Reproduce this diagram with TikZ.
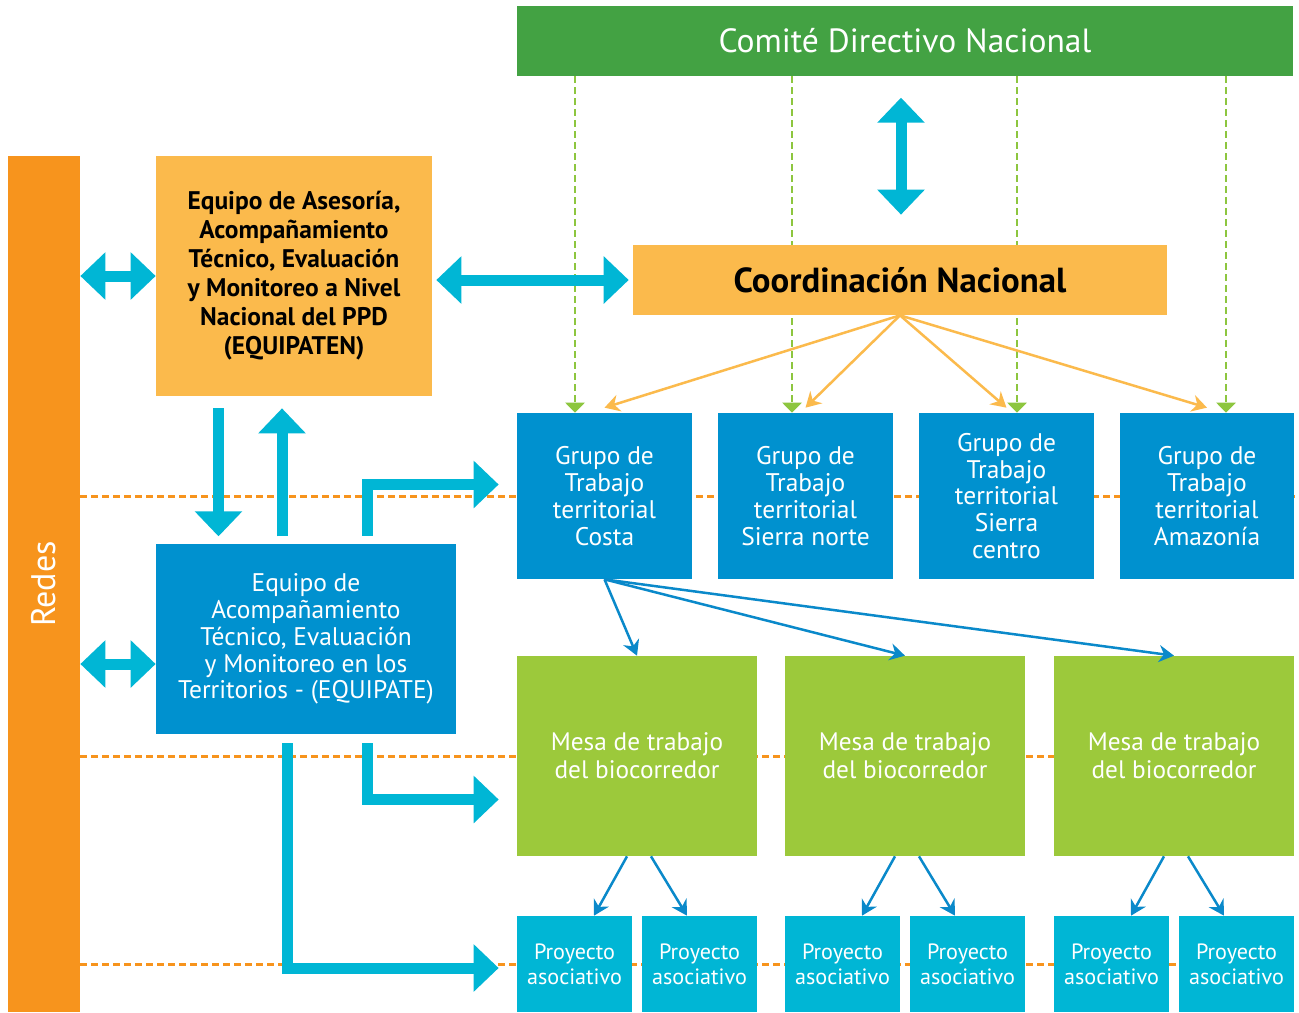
\documentclass[tikz,border=0pt]{standalone}
\usepackage{fontspec}
\setmainfont{PT Sans}
\usetikzlibrary{arrows.meta,calc,backgrounds}
\definecolor{verdeosc}{HTML}{43A243}
\definecolor{naranja}{HTML}{F7941D}
\definecolor{naranjaclaro}{HTML}{FBBA4C}
\definecolor{azul}{HTML}{0091CF}
\definecolor{cian}{HTML}{00B6D5}
\definecolor{verdeclaro}{HTML}{9CC93B}
\definecolor{verdepunto}{HTML}{8DC63F}
\definecolor{azulflecha}{HTML}{0A89CA}

\begin{document}
\begin{tikzpicture}[x=0.02cm, y=-0.02cm,
  caja/.style={rectangle, inner sep=0pt, align=center, text=white},
  grupo/.style={caja, fill=azul, minimum width=3.5cm, minimum height=3.32cm, font=\fontsize{14.5}{15.3}\selectfont},
  mesa/.style={caja, fill=verdeclaro, minimum width=4.8cm, minimum height=4cm, font=\fontsize{14.4}{16}\selectfont},
  proyecto/.style={caja, fill=cian, minimum width=2.3cm, minimum height=1.92cm, font=\fontsize{12.6}{14.2}\selectfont},
  gordo/.style={draw=cian, line width=0.22cm, line join=miter, -{Triangle[length=0.5cm,width=0.92cm]}},
  doble/.style={gordo, {Triangle[length=0.5cm,width=0.92cm]}-{Triangle[length=0.5cm,width=0.92cm]}},
  naranjafl/.style={draw=naranjaclaro, line width=0.05cm, -{Stealth[length=0.3cm,width=0.34cm]}},
  azulfl/.style={draw=azulflecha, line width=0.05cm, -{Stealth[length=0.3cm,width=0.34cm]}},
  verdefl/.style={draw=verdepunto, line width=0.05cm, dash pattern=on 0.14cm off 0.08cm, -{Triangle[length=0.2cm,width=0.38cm]}},
  punteado/.style={draw=naranja, line width=0.06cm, dash pattern=on 0.14cm off 0.08cm}]
\useasboundingbox (0,0) rectangle (1299,1012);

% cajas de arriba
\node[caja, fill=verdeosc, minimum width=15.52cm, minimum height=1.4cm, font=\fontsize{19.1}{22}\selectfont] (comite) at (905,41) {Comité Directivo Nacional};
\node[caja, fill=naranja, minimum width=1.44cm, minimum height=17.12cm] (redes) at (44,584) {};
\node[text=white, rotate=90, font=\fontsize{19.4}{22}\selectfont] (redestxt) at (redes.center) {Redes};
\node[caja, fill=naranjaclaro, text=black, minimum width=5.52cm, minimum height=4.8cm, font=\bfseries\fontsize{14.5}{16.5}\selectfont] (equipaten) at (294,276) {Equipo de Asesoría,\\Acompañamiento\\Técnico, Evaluación\\y Monitoreo a Nivel\\Nacional del PPD\\(EQUIPATEN)};
\node[caja, fill=naranjaclaro, text=black, minimum width=10.68cm, minimum height=1.4cm, font=\bfseries\fontsize{19.8}{22}\selectfont] (coord) at (900,280) {Coordinación Nacional};
\node[caja, fill=azul, minimum width=6cm, minimum height=3.8cm, font=\fontsize{14.5}{15.3}\selectfont] (equipate) at (306,639) {Equipo de\\Acompañamiento\\Técnico, Evaluación\\y Monitoreo en los\\Territorios - (EQUIPATE)};

% grupos de trabajo
\node[grupo] (costa) at (604.5,496) {Grupo de\\Trabajo\\territorial\\Costa};
\node[grupo] (norte) at (805.5,496) {Grupo de\\Trabajo\\territorial\\Sierra norte};
\node[grupo] (centro) at (1006.5,496) {Grupo de\\Trabajo\\territorial\\Sierra\\centro};
\node[grupo] (amazonia) at (1207,496) {Grupo de\\Trabajo\\territorial\\Amazonía};

% mesas y proyectos
\foreach \i/\x in {1/637, 2/905, 3/1174} {
  \node[mesa] (mesa\i) at (\x,756) {Mesa de trabajo\\del biocorredor};
  \node[proyecto] (p\i1) at (\x-62.5,964) {Proyecto\\asociativo};
  \node[proyecto] (p\i2) at (\x+62.5,964) {Proyecto\\asociativo};
  \draw[azulfl] (costa.south) -- (mesa\i.north);
  \draw[azulfl] ([xshift=-0.2cm]mesa\i.south) -- ([xshift=0.39cm]p\i1.north);
  \draw[azulfl] ([xshift=0.28cm]mesa\i.south) -- ([xshift=-0.25cm]p\i2.north);
}

\begin{pgfonlayer}{background}
\fill[white] (0,0) rectangle (1299,1012);
\draw[punteado] (redes.east |- costa.west) -- (amazonia.east);
\draw[punteado] (redes.east |- mesa1.west) -- (mesa3.east);
\draw[punteado] (redes.east |- p11.west) -- (p32.east);
\foreach \n/\d in {costa/-29.5, norte/-13.5, centro/10.5, amazonia/19} {
  \coordinate (v\n) at ($(\n.north)+(\d,0)$);
  \draw[verdefl] (v\n |- comite.south) -- (v\n);
}
\end{pgfonlayer}

\foreach \n in {costa,norte,centro,amazonia}
  \draw[naranjafl] (coord.south) -- ([yshift=0.1cm]\n.north);

% flechas gruesas
\draw[doble] (redes.east |- equipaten.west) -- (equipaten.west);
\draw[doble] ($(redes.east |- equipate.west)+(0,25)$) -- ($(equipate.west)+(0,25)$);
\draw[doble] ($(coord.north)+(1,-147)$) -- ($(coord.north)+(1,-30)$);
\draw[doble] ($(equipaten.east |- coord.west)+(4,0)$) -- ($(coord.west)+(-4,0)$);
\draw[gordo] ($(equipaten.south)+(-75.5,12)$) -- ($(equipaten.south)+(-75.5,140)$);
\draw[gordo] ($(equipaten.south)+(-12,140)$) -- ($(equipaten.south)+(-12,12)$);
\draw[gordo] ($(equipate.north)+(61.5,-8)$) |- ($(costa.west)+(-18,-11.5)$);
\draw[gordo] ($(equipate.south)+(61.5,9)$) |- ($(mesa1.west)+(-18,43.5)$);
\draw[gordo] ($(equipate.south)+(-18.5,9)$) |- ($(p11.west)+(-18,4)$);
\end{tikzpicture}
\end{document}
